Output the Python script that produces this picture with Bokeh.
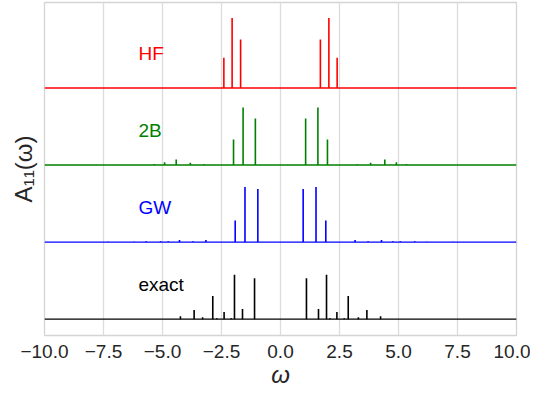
from bokeh.plotting import figure
from bokeh.models import Range1d, Span, FixedTicker, ColumnDataSource
from bokeh.core.properties import value
from bokeh.embed import file_html
from bokeh.resources import INLINE

# ---- data (peak positions / peak heights) ----
series_names = ["HF", "2B", "GW", "exact"]
series_colors = ["#ff0000", "#008000", "#0000ff", "#000000"]
series_offsets = [3, 2, 1, 0]

hf_pos = [-2.40, -2.05, -1.69, 1.69, 2.05, 2.40]
hf_h = [0.392, 0.909, 0.628, 0.628, 0.909, 0.392]

b2_pos = [-5.34, -4.91, -4.42, -3.82, -3.25, -1.99, -1.585, -1.065,
          1.065, 1.585, 1.99, 3.25, 3.82, 4.42, 4.91, 5.34]
b2_h = [0.012, 0.037, 0.073, 0.028, 0.009, 0.33, 0.747, 0.603,
        0.603, 0.747, 0.33, 0.009, 0.028, 0.073, 0.037, 0.012]

gw_pos = [-7.3, -6.2, -5.69, -5.08, -4.76, -4.28, -3.71, -3.16, -1.92, -1.505, -0.96,
          0.96, 1.505, 1.92, 3.16, 3.71, 4.28, 4.76, 5.08, 5.69, 6.2, 7.3]
gw_h = [0.006, 0.006, 0.01, 0.012, 0.012, 0.028, 0.012, 0.028, 0.28, 0.714, 0.689,
        0.689, 0.714, 0.28, 0.028, 0.012, 0.028, 0.012, 0.012, 0.01, 0.006, 0.006]

ex_pos = [-4.24, -3.66, -3.30, -2.87, -2.70, -2.39, -2.09, -1.95, -1.61, -1.10,
          1.10, 1.61, 1.95, 2.09, 2.39, 2.70, 2.87, 3.30, 3.66, 4.24]
ex_h = [0.037, 0.119, 0.025, 0.30, 0.012, 0.094, 0.012, 0.575, 0.131, 0.53,
        0.53, 0.131, 0.575, 0.012, 0.094, 0.012, 0.30, 0.025, 0.119, 0.037]

tick_values = [-10.0, -7.5, -5.0, -2.5, 0.0, 2.5, 5.0, 7.5, 10.0]
tick_labels = ["\u221210.0", "\u22127.5", "\u22125.0", "\u22122.5", "0.0",
               "2.5", "5.0", "7.5", "10.0"]

peaks = [(hf_pos, hf_h), (b2_pos, b2_h), (gw_pos, gw_h), (ex_pos, ex_h)]

FONT = "Liberation Sans"

p = figure(width=530, height=390, x_range=Range1d(-10, 10),
           y_range=Range1d(-0.212, 4.109), output_backend="svg",
           toolbar_location=None, min_border_left=44, min_border_right=14,
           min_border_top=2, min_border_bottom=10)

p.background_fill_color = "white"
p.border_fill_color = "white"
p.outline_line_color = "#d4d4d4"
p.outline_line_width = 1.3

for (pos, h), col, off in zip(peaks, series_colors, series_offsets):
    p.add_layout(Span(location=off, dimension="width", line_color=col,
                      line_width=1.4))
    src = ColumnDataSource(dict(x=pos, y0=[off] * len(pos),
                                y1=[off + v for v in h]))
    p.segment(x0="x", y0="y0", x1="x", y1="y1", source=src,
              line_color=col, line_width=1.6)

lab = ColumnDataSource(dict(x=[-6.02] * 4,
                            y=[o + 0.45 for o in series_offsets],
                            t=series_names, c=series_colors))
p.text(x="x", y="y", text="t", text_color="c", source=lab,
       text_font=value(FONT), text_font_size="19px",
       text_baseline="alphabetic", text_align="left")

# x axis
xa = p.xaxis[0]
xa.ticker = FixedTicker(ticks=tick_values)
xa.major_label_overrides = {v: s for v, s in zip(tick_values, tick_labels)}
xa.major_tick_line_color = None
xa.minor_tick_line_color = None
xa.axis_line_color = None
xa.major_label_text_font = FONT
xa.major_label_text_font_size = "19px"
xa.major_label_text_color = "#262626"
xa.major_label_standoff = 3
xa.axis_label = "\u03c9"
xa.axis_label_text_font = FONT
xa.axis_label_text_font_style = "italic"
xa.axis_label_text_font_size = "24px"
xa.axis_label_text_color = "#262626"
xa.axis_label_standoff = 0

# y axis
ya = p.yaxis[0]
ya.ticker = FixedTicker(ticks=[])
ya.major_tick_line_color = None
ya.minor_tick_line_color = None
ya.axis_line_color = None
ya.axis_label = "A\u2081\u2081(\u03c9)"
ya.axis_label_text_font = FONT
ya.axis_label_text_font_style = "normal"
ya.axis_label_text_font_size = "24px"
ya.axis_label_text_color = "#262626"
ya.axis_label_standoff = 8

p.xgrid.grid_line_color = "#dcdcdc"
p.xgrid.grid_line_width = 1.3
p.ygrid.grid_line_color = None

open("out.html", "w").write(file_html(p, INLINE))
